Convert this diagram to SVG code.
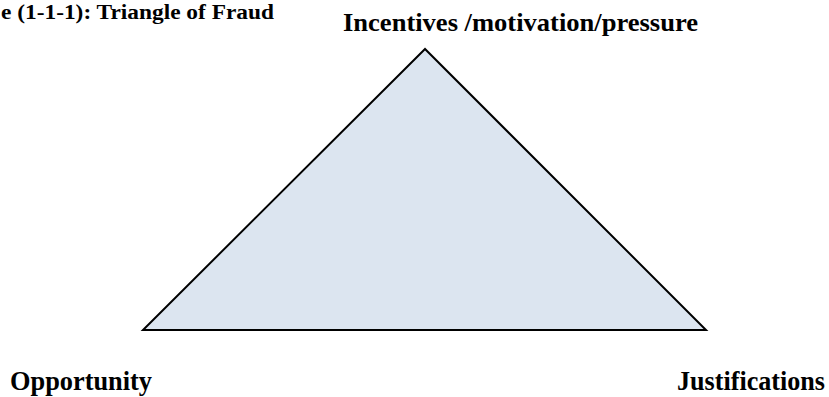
<svg xmlns="http://www.w3.org/2000/svg" width="829" height="397" viewBox="0 0 829 397">
<style>
.lbl{font-family:"Liberation Serif","Times New Roman",serif;font-weight:bold;fill:#000}
.title{font-family:"Liberation Serif","DejaVu Serif",serif;font-weight:bold;fill:#000;font-size:20px}
.tri{fill:#dce5f0;stroke:#000;stroke-width:2;stroke-linejoin:miter}
</style>
<rect width="829" height="397" fill="#fff"/>
<g id="title"><text class="title" x="1" y="19" textLength="273" lengthAdjust="spacingAndGlyphs">e (1-1-1): Triangle of Fraud</text></g>
<g id="triangle"><polygon class="tri" points="425,49 143,330 706,330"/></g>
<g id="connectors"></g>
<g id="incentives"><text class="lbl" x="343" y="31" font-size="26" textLength="355" lengthAdjust="spacingAndGlyphs">Incentives /motivation/pressure</text></g>
<g id="opportunity"><text class="lbl" x="10" y="390" font-size="28" textLength="142" lengthAdjust="spacingAndGlyphs">Opportunity</text></g>
<g id="justifications"><text class="lbl" x="677" y="390" font-size="27" textLength="148" lengthAdjust="spacingAndGlyphs">Justifications</text></g>
</svg>
